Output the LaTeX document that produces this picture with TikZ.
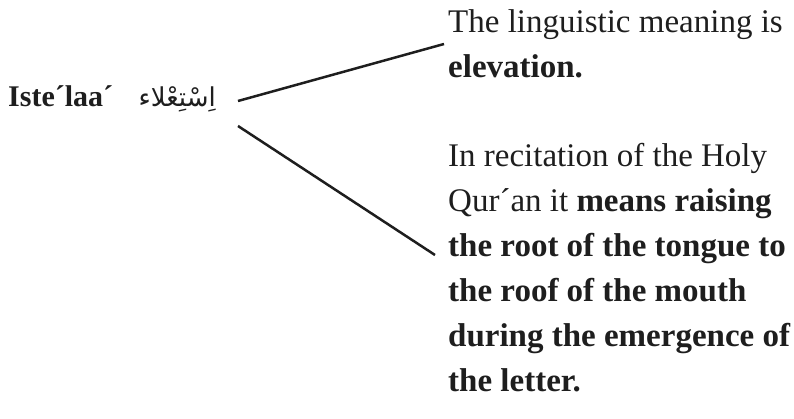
\documentclass[tikz,border=0pt]{standalone}
\usepackage{fontspec}
\setmainfont{Liberation Serif}
\newfontfamily\arabicfont[Script=Arabic]{DejaVu Sans}
\TeXXeTstate=1
\definecolor{ink}{HTML}{1E1E1E}
\begin{document}
\begin{tikzpicture}[x=1pt,y=-1pt,
  txt/.style={inner sep=0pt, anchor=base west, text=ink, align=left,
    font=\fontsize{33}{45}\selectfont},
  lbl/.style={inner sep=0pt, anchor=base west, text=ink,
    font=\fontsize{30}{36}\selectfont\bfseries},
  conn/.style={draw=ink, line width=2.5pt}]
\useasboundingbox (0,0) rectangle (794,419);
\node[lbl] (term) at (8,107) {Iste´laa´};
\node[inner sep=0pt, anchor=base east, text=ink, font=\fontsize{26}{30}\selectfont] (arab) at (216,107) {\arabicfont\beginR اِسْتِعْلاء\endR};
% base anchor of a multi-line node is the baseline of its last line
\node[txt] (top) at (448,78) {The linguistic meaning is\\\textbf{elevation.}};
\node[txt] (bot) at (448,391) {In recitation of the Holy\\Qur´an it \textbf{means raising}\\\textbf{the root of the tongue to}\\\textbf{the roof of the mouth}\\\textbf{during the emergence of}\\\textbf{the letter.}};
\coordinate (s1) at (238,101);
\coordinate (s2) at (238,126);
\coordinate (e1) at (444,44);
\coordinate (e2) at (435,255);
\draw[conn] (s1) -- (e1);
\draw[conn] (s2) -- (e2);
\end{tikzpicture}
\end{document}
